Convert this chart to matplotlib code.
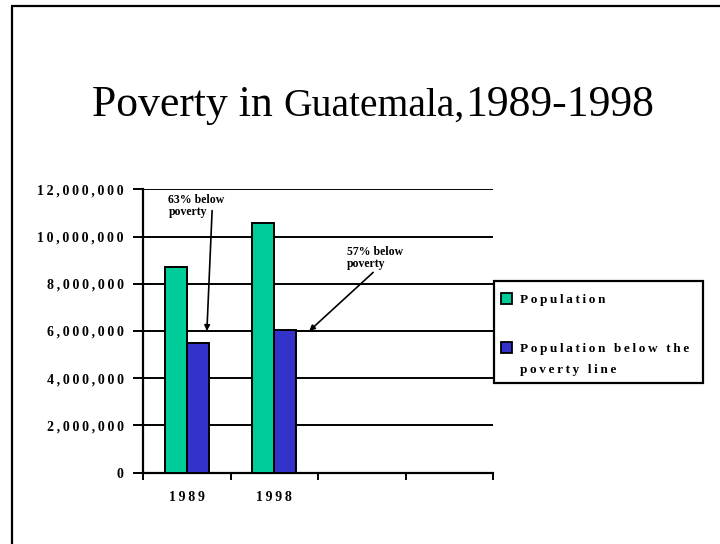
import matplotlib
matplotlib.use('Agg')
import matplotlib.pyplot as plt
from matplotlib.patches import Rectangle
from matplotlib.lines import Line2D
import numpy as np

# poverty figures for Guatemala
years = ['1989', '1998']
population = [8_720_000, 10_590_000]
below_poverty = [5_490_000, 6_040_000]
share_labels = ['63% below\npoverty', '57% below\npoverty']
series_names = ['Population', 'Population below the\npoverty line']
title_parts = ['Poverty in ', 'Guatemala,', '1989-1998']
title_sizes = [31.5, 28.5, 31.5]

green = '#00CC99'
blue = '#3333CC'

plt.rcParams['font.family'] = ['Liberation Serif', 'DejaVu Serif']


def spaced(s):
    # old presentation look: letters pulled apart with thin spaces
    return '\n'.join('\u2009'.join(line) for line in s.split('\n'))


W, H = 720, 544
fig = plt.figure(figsize=(W / 100, H / 100), dpi=100)

def fx(px):
    return px / W

def fy(py):
    return 1 - py / H

# slide frame (left and top edges only)
fig.add_artist(Line2D([fx(11.5), fx(11.5)], [fy(5.5), 0], color='black', lw=1.6,
                      solid_capstyle='butt'))
fig.add_artist(Line2D([fx(10.9), 1], [fy(5.5), fy(5.5)], color='black', lw=1.6,
                      solid_capstyle='butt'))

# title, drawn piece by piece with the middle word smaller
renderer = fig.canvas.get_renderer()
pieces = []
for part, size in zip(title_parts, title_sizes):
    t = fig.text(0, fy(116), part, fontsize=size, va='baseline', ha='left')
    pieces.append(t)
widths = [t.get_window_extent(renderer).width for t in pieces]
x0 = 373 - sum(widths) / 2
for t, w in zip(pieces, widths):
    t.set_x(fx(x0))
    x0 += w

ax = fig.add_axes([fx(143), fy(472.7), fx(350), 283.4 / H])

x = np.arange(len(years)) + 0.5
bw = 0.25
ax.bar(x - bw / 2, population, bw, color=green, edgecolor='black', lw=1.4, zorder=3)
ax.bar(x + bw / 2, below_poverty, bw, color=blue, edgecolor='black', lw=1.4, zorder=3)

ax.set_xlim(0, 4)
ax.set_ylim(0, 12_000_000)
yt = np.arange(0, 12_000_001, 2_000_000)
ax.set_yticks(yt)
ax.set_yticklabels([spaced(f'{v:,.0f}') for v in yt], fontsize=10, fontweight='bold')
ax.yaxis.grid(True, color='black', lw=1.4)
ax.set_axisbelow(True)

ax.set_xticks(np.arange(0, 5))
ax.set_xticklabels([])
ax.set_xticks(x, minor=True)
ax.set_xticklabels([spaced(y) for y in years], minor=True, fontsize=10, fontweight='bold')
ax.tick_params(axis='x', which='major', length=5, width=1.4, direction='out')
ax.tick_params(axis='x', which='minor', length=0, pad=13)
ax.tick_params(axis='y', length=7, width=1.4, pad=7)

for side in ['top', 'right']:
    ax.spines[side].set_visible(False)
for side in ['left', 'bottom']:
    ax.spines[side].set_linewidth(1.6)

# share-below-poverty callouts
text_left = [(0.29, 11_300_000), (2.33, 9_100_000)]
tails = [(0.79, 11_100_000), (2.63, 8_480_000)]
tips = [(0.73, 6_000_000), (1.90, 6_000_000)]
for label, tp, tail, tip in zip(share_labels, text_left, tails, tips):
    ax.text(tp[0], tp[1], label, fontsize=8.5, fontweight='bold', ha='left',
            va='center', multialignment='left', linespacing=1.05)
    ax.annotate('', xy=tip, xytext=tail,
                arrowprops=dict(arrowstyle='-|>', color='black', lw=1.2,
                                mutation_scale=8, shrinkA=0, shrinkB=0))

# legend box
fig.add_artist(Rectangle((fx(494), fy(383)), fx(209), 102 / H, fill=False,
                         edgecolor='black', lw=1.6, transform=fig.transFigure))
swatch_top = [293, 342]
for name, color, top in zip(series_names, [green, blue], swatch_top):
    fig.add_artist(Rectangle((fx(501), fy(top + 11)), fx(11), 11 / H,
                             facecolor=color, edgecolor='black', lw=1.3,
                             transform=fig.transFigure))
    fig.text(fx(520), fy(top + 1), spaced(name), fontsize=9.5, fontweight='bold',
             ha='left', va='top', linespacing=1.95)

fig.savefig('out.png', dpi=100)
